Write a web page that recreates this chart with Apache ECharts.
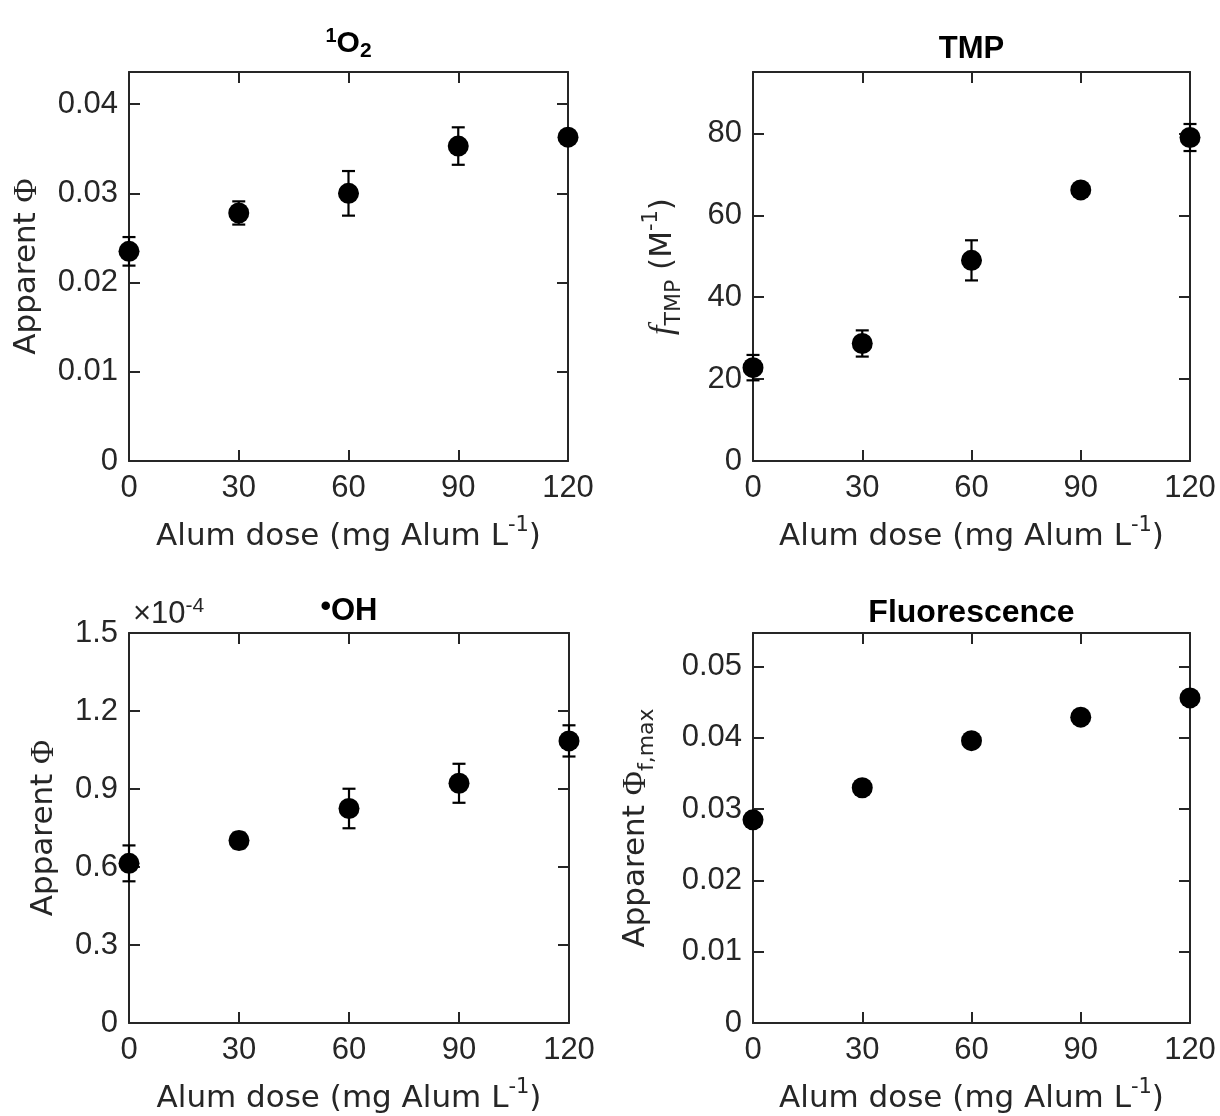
<!DOCTYPE html>
<html><head><meta charset="utf-8">
<script src="https://cdn.jsdelivr.net/npm/echarts@6/dist/echarts.min.js"></script>
<style>html,body{margin:0;padding:0;background:#fff}#c{width:1220px;height:1116px}</style>
</head><body><div id="c"></div><script>
// ---- data ----
const doses = [0, 30, 60, 90, 120];               // Alum dose (mg Alum L^-1)
const xTicks = [0, 30, 60, 90, 120];
// 1O2 apparent quantum yield
const o2Values = [0.0235, 0.0278, 0.0300, 0.0353, 0.0363];
const o2Errors = [0.0016, 0.0013, 0.0025, 0.0021, 0.0004];
const o2Ticks = [0, 0.01, 0.02, 0.03, 0.04];
// TMP f_TMP (M^-1)
const tmpValues = [22.8, 28.7, 49.0, 66.2, 79.0];
const tmpErrors = [3.1, 3.2, 4.9, 1.5, 3.3];
const tmpTicks = [0, 20, 40, 60, 80];
// OH apparent quantum yield, in units of 1e-4
const ohValues = [0.614, 0.702, 0.825, 0.922, 1.085];
const ohErrors = [0.069, 0.030, 0.076, 0.075, 0.060];
const ohTicks = [0, 0.3, 0.6, 0.9, 1.2, 1.5];
// Fluorescence apparent Phi_f,max
const fluoValues = [0.0285, 0.0330, 0.0396, 0.0429, 0.0456];
const fluoErrors = [0.0003, 0.0003, 0.0003, 0.0005, 0.0005];
const fluoTicks = [0, 0.01, 0.02, 0.03, 0.04, 0.05];

const AX = '#262626';
const FONT = '"Liberation Sans", Arial, Helvetica, sans-serif';
const NFONT = '"DejaVu Sans", "Liberation Sans", sans-serif';
const SERIF = '"Liberation Serif", "Times New Roman", serif';

const panels = [
  { grid: {left: 129, top: 72, width: 439, height: 389},
    values: o2Values, errors: o2Errors, ticks: o2Ticks, ymax: 0.0436,
    title: '{sup|1}{m|O}{sub|2}', titleGap: 10,
    titleRich: { m: {fontSize: 30, lineHeight: 36}, sup: {fontSize: 20, lineHeight: 4, verticalAlign: 'top'}, sub: {fontSize: 21, lineHeight: 10, verticalAlign: 'bottom'} },
    yName: '{m|Apparent }{phi|Φ}', yGap: 80 },
  { grid: {left: 753, top: 72, width: 437, height: 389},
    values: tmpValues, errors: tmpErrors, ticks: tmpTicks, ymax: 95,
    title: '{m|TMP}', titleGap: 5,
    titleRich: { m: {fontSize: 31, lineHeight: 36} },
    yName: '{it|f}{sub|TMP}{m| (M}{sup|-1}{m|)}', yGap: 68 },
  { grid: {left: 129, top: 633, width: 440, height: 390},
    values: ohValues, errors: ohErrors, ticks: ohTicks, ymax: 1.5,
    title: '{b|•}{m|OH}', titleGap: 4,
    titleRich: { m: {fontSize: 31, lineHeight: 36}, b: {fontSize: 30, lineHeight: 6, verticalAlign: 'top'} },
    yName: '{m|Apparent }{phi|Φ}', yGap: 63 },
  { grid: {left: 753, top: 633, width: 437, height: 390},
    values: fluoValues, errors: fluoErrors, ticks: fluoTicks, ymax: 0.0547,
    title: '{m|Fluorescence}', titleGap: 2,
    titleRich: { m: {fontSize: 32, lineHeight: 36} },
    yName: '{m|Apparent }{phi|Φ}{sub|f,max}', yGap: 95 }
];

const xNameText = '{m|Alum dose (mg Alum L}{sup|-1}{m|)}';

function errorBarItem(params, api) {
  const x = api.value(0);
  const lo = api.coord([x, api.value(1)]);
  const hi = api.coord([x, api.value(2)]);
  const hw = 6.5;
  const st = {stroke: '#000', lineWidth: 2.2};
  return {type: 'group', children: [
    {type: 'line', shape: {x1: lo[0], y1: lo[1], x2: hi[0], y2: hi[1]}, style: st},
    {type: 'line', shape: {x1: lo[0] - hw, y1: lo[1], x2: lo[0] + hw, y2: lo[1]}, style: st},
    {type: 'line', shape: {x1: hi[0] - hw, y1: hi[1], x2: hi[0] + hw, y2: hi[1]}, style: st}
  ]};
}

const lineStyle = {color: AX, width: 2};
const grid = [], xAxis = [], yAxis = [], series = [];

panels.forEach((p, i) => {
  grid.push(Object.assign({containLabel: false, outerBoundsMode: 'none'}, p.grid));
  const interval = p.ticks[1] - p.ticks[0];
  // bottom x
  xAxis.push({
    gridIndex: i, type: 'value', position: 'bottom', min: xTicks[0], max: xTicks[xTicks.length - 1], interval: xTicks[1] - xTicks[0],
    axisLine: {show: true, onZero: false, lineStyle}, axisTick: {show: true, inside: true, length: 11, lineStyle},
    axisLabel: {color: AX, fontSize: 31, fontFamily: FONT, margin: 12}, splitLine: {show: false},
    name: xNameText, nameLocation: 'middle', nameGap: 54, nameMoveOverlap: false,
    nameTextStyle: {color: AX, fontFamily: NFONT, fontSize: 31, lineHeight: 44,
      rich: {m: {fontSize: 31, lineHeight: 44, fontFamily: NFONT, color: AX},
             sup: {fontSize: 21, lineHeight: 4, verticalAlign: 'top', fontFamily: NFONT, color: AX}}}
  });
  // top x (box + title)
  const tr = {};
  Object.keys(p.titleRich).forEach(k => { tr[k] = Object.assign({fontWeight: 'bold', fontFamily: FONT, color: '#000'}, p.titleRich[k]); });
  xAxis.push({
    gridIndex: i, type: 'value', position: 'top', min: xTicks[0], max: xTicks[xTicks.length - 1], interval: xTicks[1] - xTicks[0],
    axisLine: {show: true, onZero: false, lineStyle}, axisTick: {show: true, inside: true, length: 11, lineStyle},
    axisLabel: {show: false}, splitLine: {show: false},
    name: p.title, nameLocation: 'middle', nameGap: p.titleGap, nameMoveOverlap: false,
    nameTextStyle: {color: '#000', fontFamily: FONT, fontWeight: 'bold', fontSize: 31, lineHeight: 36, rich: tr}
  });
  // left y
  yAxis.push({
    gridIndex: i, type: 'value', position: 'left', min: p.ticks[0], max: p.ymax, interval,
    axisLine: {show: true, onZero: false, lineStyle}, axisTick: {show: true, inside: true, length: 11, lineStyle},
    axisLabel: {color: AX, fontSize: 31, fontFamily: FONT, margin: 11,
      showMaxLabel: p.ymax === p.ticks[p.ticks.length - 1]}, splitLine: {show: false},
    name: p.yName, nameLocation: 'middle', nameRotate: 90, nameGap: p.yGap, nameMoveOverlap: false,
    nameTextStyle: {color: AX, fontFamily: NFONT, fontSize: 31, lineHeight: 44,
      rich: {
        m: {fontSize: 31, lineHeight: 44, fontFamily: NFONT, color: AX},
        phi: {fontSize: 33, lineHeight: 44, fontFamily: SERIF, color: AX},
        it: {fontSize: 34, lineHeight: 44, fontFamily: SERIF, fontStyle: 'italic', color: AX},
        sup: {fontSize: 21, lineHeight: 4, verticalAlign: 'top', fontFamily: NFONT, color: AX},
        sub: {fontSize: 22, lineHeight: 6, verticalAlign: 'bottom', fontFamily: NFONT, color: AX}
      }}
  });
  // right y (box)
  yAxis.push({
    gridIndex: i, type: 'value', position: 'right', min: p.ticks[0], max: p.ymax, interval,
    axisLine: {show: true, onZero: false, lineStyle}, axisTick: {show: true, inside: true, length: 11, lineStyle},
    axisLabel: {show: false}, splitLine: {show: false}
  });
  series.push({
    type: 'custom', xAxisIndex: 2 * i, yAxisIndex: 2 * i, z: 2, silent: true,
    data: doses.map((d, k) => [d, p.values[k] - p.errors[k], p.values[k] + p.errors[k]]),
    encode: {x: 0, y: [1, 2]}, renderItem: errorBarItem
  });
  series.push({
    type: 'scatter', xAxisIndex: 2 * i, yAxisIndex: 2 * i, z: 3, clip: false, silent: true,
    symbol: 'circle', symbolSize: 21, itemStyle: {color: '#000', opacity: 1},
    data: doses.map((d, k) => [d, p.values[k]])
  });
});

const chart = echarts.init(document.getElementById('c'), null, {renderer: 'canvas'});
chart.setOption({
  animation: false,
  backgroundColor: '#fff',
  title: [{
    text: '{m|×10}{s|-4}', left: 133, top: 596, padding: 0,
    textStyle: {color: AX, fontFamily: FONT, fontWeight: 'normal', fontSize: 31, lineHeight: 36,
      rich: {m: {fontSize: 31, lineHeight: 36, fontFamily: FONT, color: AX},
             s: {fontSize: 21, lineHeight: 20, verticalAlign: 'top', fontFamily: FONT, color: AX}}}
  }],
  grid, xAxis, yAxis, series
});
</script></body></html>
